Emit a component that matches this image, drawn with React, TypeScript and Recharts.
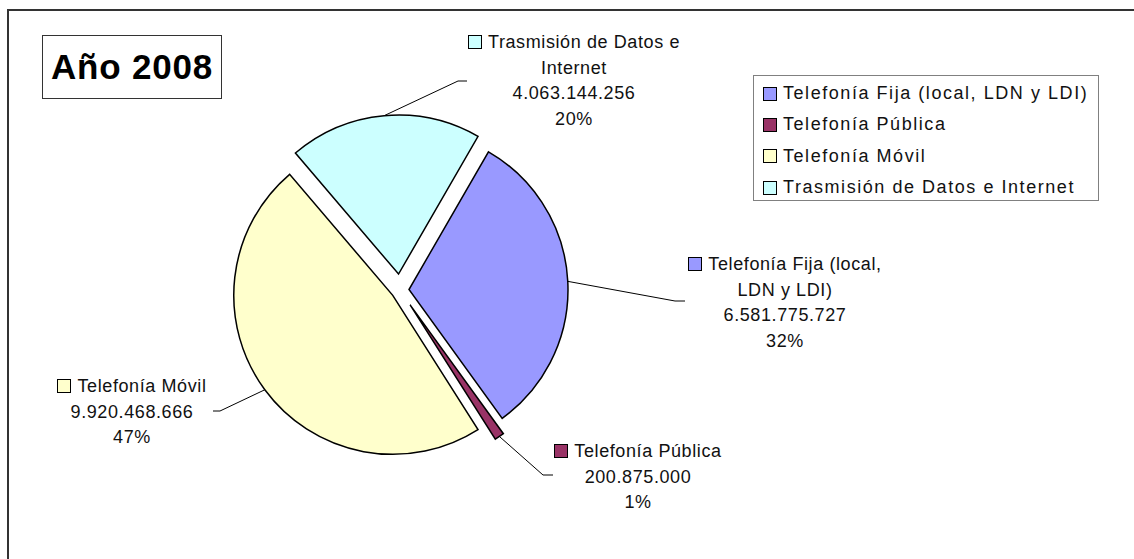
import React from 'react';
import { PieChart, Pie, Cell, Sector, Legend } from 'recharts';

// datos 2008
const categories = [
  'Telefonía Fija (local, LDN y LDI)',
  'Telefonía Pública',
  'Telefonía Móvil',
  'Trasmisión de Datos e Internet',
];
const values = [6581775727, 200875000, 9920468666, 4063144256];
const percentLabels = ['32%', '1%', '47%', '20%'];
const colors = ['#9999FF', '#993366', '#FFFFCC', '#CCFFFF'];

const FONT = '"Liberation Sans", Arial, sans-serif';

// cuanto se separa cada porción del centro
const explode = [9, 18, 9, 16];

// posición de las etiquetas (codo de la línea + bloque de texto)
const labelLayout = [
  { elbowX: 675, endX: 685, elbowY: 301, cx: 785, top: 252, w: 205 },
  { elbowX: 543, endX: 553, elbowY: 475, cx: 638, top: 439, w: 220 },
  { elbowX: 220, endX: 213, elbowY: 411, cx: 132, top: 374, w: 200 },
  { elbowX: 458, endX: 467, elbowY: 81, cx: 574, top: 30, w: 240 },
];

const data = categories.map((name, i) => ({ name, value: values[i] }));

const fmt = (v: number) => v.toString().replace(/\B(?=(\d{3})+(?!\d))/g, '.');

const RAD = Math.PI / 180;

const renderSlice = (props: any) => {
  const i = categories.indexOf(props.name ?? props.payload?.name);
  const off = explode[i] ?? 0;
  const dx = off * Math.cos(-props.midAngle * RAD);
  const dy = off * Math.sin(-props.midAngle * RAD);
  return <Sector {...props} cx={props.cx + dx} cy={props.cy + dy} />;
};

const Square = ({ color, size = 12 }: { color: string; size?: number }) => (
  <span
    style={{
      display: 'inline-block',
      width: size,
      height: size,
      background: color,
      border: '1.5px solid #000',
      verticalAlign: '-1px',
      marginRight: 6,
    }}
  />
);

const renderLabel = (props: any) => {
  const { cx, cy, midAngle, outerRadius, name } = props;
  const i = categories.indexOf(name ?? props.payload?.name);
  if (i < 0) return null;
  const L = labelLayout[i];
  const r = outerRadius + explode[i];
  const sx = cx + r * Math.cos(-midAngle * RAD);
  const sy = cy + r * Math.sin(-midAngle * RAD);
  return (
    <g key={`lbl-${i}`}>
      <polyline
        points={`${sx},${sy} ${L.elbowX},${L.elbowY} ${L.endX},${L.elbowY}`}
        fill="none"
        stroke="#000"
        strokeWidth={1}
      />
      <foreignObject x={L.cx - L.w / 2} y={L.top} width={L.w} height={130}>
        <div
          style={{
            width: L.w,
            textAlign: 'center',
            fontFamily: FONT,
            fontSize: 18,
            lineHeight: '25.5px',
            letterSpacing: 0.6,
            color: '#111',
          }}
        >
          <Square color={colors[i]} />
          {categories[i]}
          <br />
          {fmt(values[i])}
          <br />
          {percentLabels[i]}
        </div>
      </foreignObject>
    </g>
  );
};

const renderLegend = () => (
  <div
    style={{
      width: 346,
      height: 126,
      boxSizing: 'border-box',
      border: '1px solid #808080',
      background: '#fff',
      paddingTop: 2,
      paddingLeft: 9,
      fontFamily: FONT,
      fontSize: 18,
      letterSpacing: 1.55,
      color: '#111',
    }}
  >
    {categories.map((c, i) => (
      <div key={c} style={{ height: 31.3, display: 'flex', alignItems: 'center', whiteSpace: 'nowrap' }}>
        <Square color={colors[i]} />
        <span>{c}</span>
      </div>
    ))}
  </div>
);

export default function App() {
  return (
    <div style={{ position: 'relative', width: 1134, height: 559, background: '#fff', overflow: 'hidden' }}>
      <style>{'body{margin:0;overflow:hidden}'}</style>
      <PieChart width={1134} height={559} margin={{ top: 0, right: 0, bottom: 0, left: 0 }}>
        <Pie
          data={data}
          dataKey="value"
          nameKey="name"
          cx={400}
          cy={290}
          outerRadius={159}
          startAngle={60}
          endAngle={-300}
          stroke="#000"
          strokeWidth={1.5}
          shape={renderSlice}
          label={renderLabel}
          labelLine={false}
          isAnimationActive={false}
        >
          {data.map((d, i) => (
            <Cell key={d.name} fill={colors[i]} stroke="#000" strokeWidth={1.5} />
          ))}
        </Pie>
        <Legend
          layout="vertical"
          content={renderLegend}
          wrapperStyle={{ position: 'absolute', left: 753, top: 75, width: 346, height: 126 }}
        />
      </PieChart>
      {/* marco del gráfico */}
      <div
        style={{
          position: 'absolute',
          left: 7,
          top: 9,
          width: 1127,
          height: 550,
          boxSizing: 'border-box',
          borderLeft: '2px solid #333',
          borderTop: '2px solid #333',
          pointerEvents: 'none',
        }}
      />
      <div
        style={{
          position: 'absolute',
          left: 42,
          top: 35,
          width: 180,
          height: 64,
          boxSizing: 'border-box',
          border: '1px solid #333',
          background: '#fff',
          fontFamily: FONT,
          fontWeight: 'bold',
          fontSize: 35,
          letterSpacing: 0.8,
          lineHeight: '62px',
          textAlign: 'center',
          color: '#000',
        }}
      >
        Año 2008
      </div>
    </div>
  );
}
